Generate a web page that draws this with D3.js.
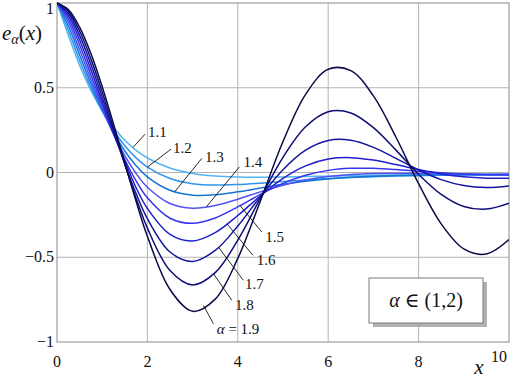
<!DOCTYPE html>
<html><head><meta charset="utf-8">
<script src="https://cdn.jsdelivr.net/npm/d3@7"></script>
<style>body{margin:0;background:#fff}svg{display:block}</style>
</head><body>
<svg id="chart" width="512" height="378"></svg>
<script>
// ---- data ----
const xValues = [0,0.25,0.5,0.75,1,1.25,1.5,1.75,2,2.5,3,3.5,4,4.5,5,5.5,6,6.5,7,7.5,8,8.5,9,9.5,10];
const alphas = ["1.1","1.2","1.3","1.4","1.5","1.6","1.7","1.8","1.9"];
const e11 = [1,0.8105,0.6335,0.4847,0.3637,0.2665,0.1902,0.1310,0.0857,0.0261,-0.0056,-0.0210,-0.0268,-0.0282,-0.0264,-0.0242,-0.0214,-0.0191,-0.0168,-0.0151,-0.0135,-0.0117,-0.0108,-0.0100,-0.0093];
const e12 = [1,0.8396,0.6627,0.5017,0.3635,0.2493,0.1577,0.0862,0.0320,-0.0358,-0.0661,-0.0743,-0.0709,-0.0628,-0.0527,-0.0437,-0.0357,-0.0296,-0.0248,-0.0212,-0.0186,-0.0165,-0.0150,-0.0138,-0.0128];
const e13 = [1,0.8657,0.6932,0.5231,0.3689,0.2363,0.1268,0.0402,-0.0257,-0.1051,-0.1337,-0.1316,-0.1142,-0.0919,-0.0697,-0.0517,-0.0377,-0.0280,-0.0216,-0.0177,-0.0153,-0.0140,-0.0131,-0.0126,-0.0121];
const e14 = [1,0.8887,0.7239,0.5484,0.3800,0.2285,0.0993,-0.0057,-0.0866,-0.1828,-0.2106,-0.1953,-0.1575,-0.1144,-0.0748,-0.0444,-0.0235,-0.0114,-0.0058,-0.0045,-0.0054,-0.0072,-0.0090,-0.0102,-0.0109];
const e15 = [1,0.9085,0.7540,0.5767,0.3966,0.2270,0.0765,-0.0498,-0.1494,-0.2697,-0.2999,-0.2681,-0.2029,-0.1295,-0.0643,-0.0164,0.0125,0.0246,0.0245,0.0173,0.0073,-0.0022,-0.0094,-0.0137,-0.0153];
const e16 = [1,0.9254,0.7829,0.6071,0.4184,0.2322,0.0680,-0.0899,-0.2121,-0.3654,-0.4040,-0.3546,-0.2539,-0.1383,-0.0349,0.0392,0.0792,0.0876,0.0733,0.0466,0.0171,-0.0082,-0.0254,-0.0333,-0.0332];
const e17 = [1,0.9396,0.8099,0.6385,0.4445,0.2440,0.0507,-0.1243,-0.2725,-0.4690,-0.5246,-0.4598,-0.3160,-0.1423,0.0168,0.1319,0.1892,0.1902,0.1485,0.0834,0.0148,-0.0419,-0.0772,-0.0885,-0.0791];
const e18 = [1,0.9513,0.8348,0.6703,0.4742,0.2624,0.0494,-0.1512,-0.3282,-0.5782,-0.6632,-0.5907,-0.3990,-0.1507,0.0897,0.2696,0.3586,0.3514,0.2651,0.1320,-0.0107,-0.1288,-0.2003,-0.2159,-0.1811];
const e19 = [1,0.9610,0.8574,0.7015,0.5065,0.2864,0.0563,-0.1695,-0.3766,-0.6901,-0.8187,-0.7472,-0.5070,-0.1680,0.1825,0.4610,0.6090,0.6010,0.4520,0.2080,-0.0660,-0.3030,-0.4510,-0.4810,-0.3960];
const seriesValues = [e11,e12,e13,e14,e15,e16,e17,e18,e19];
const xTicks = [0,2,4,6,8,10];
const xTickLabels = ["0","2","4","6","8","10"];
const yTicks = [-1,-0.5,0,0.5,1];
const yTickLabels = ["\u22121","\u22120.5","0","0.5","1"];
const curveLabels = ["1.1","1.2","1.3","1.4","1.5","1.6","1.7","1.8","\u03b1 = 1.9"];
// annotation anchors in data units
const leaderEndX   = [1.68,2.0,2.61,3.31,4.05,3.76,3.57,3.46,3.24];
const leaderStartX = [1.947,2.523,3.203,4.035,4.532,4.332,4.124,3.867,3.46];
const leaderStartY = [0.226,0.1376,0.0827,0.0331,-0.351,-0.488,-0.636,-0.754,-0.892];
const labelX = [2.013,2.567,3.276,4.124,4.605,4.421,4.162,3.94,3.535];
const labelY = [0.2085,0.114,0.0626,0.0331,-0.41,-0.5475,-0.685,-0.813,-0.951];

// ---- styles ----
const colors = ["#55b4f2","#2f94ee","#1474d6","#5252f2","#3535ee","#2020cc","#15159f","#0e0e78","#0b0b48"];
const plot = {left:57, right:509, top:3, bottom:342};
const serif = "'Liberation Serif','DejaVu Serif',serif";

const svg = d3.select("#chart");
const x = d3.scaleLinear().domain([0,10]).range([plot.left, plot.right]);
const y = d3.scaleLinear().domain([-1,1]).range([plot.bottom, plot.top]);

// grid
const g = svg.append("g");
g.selectAll("line.gx").data(xTicks.slice(1,-1)).join("line")
  .attr("x1",d=>x(d)).attr("x2",d=>x(d)).attr("y1",plot.top).attr("y2",plot.bottom)
  .attr("stroke","#b4b4b4").attr("stroke-width",1);
g.selectAll("line.gy").data(yTicks.slice(1,-1)).join("line")
  .attr("x1",plot.left).attr("x2",plot.right).attr("y1",d=>y(d)).attr("y2",d=>y(d))
  .attr("stroke","#b4b4b4").attr("stroke-width",1);
// frame
g.append("rect").attr("x",plot.left).attr("y",plot.top)
  .attr("width",plot.right-plot.left).attr("height",plot.bottom-plot.top)
  .attr("fill","none").attr("stroke","#8a8a8a").attr("stroke-width",1);

// curves
svg.append("clipPath").attr("id","clip").append("rect")
  .attr("x",plot.left).attr("y",plot.top-2).attr("width",plot.right-plot.left).attr("height",plot.bottom-plot.top+4);
const line = d3.line().x((d,i)=>x(xValues[i])).y(d=>y(d)).curve(d3.curveCatmullRom.alpha(0.5));
svg.append("g").attr("clip-path","url(#clip)")
  .selectAll("path").data(seriesValues).join("path")
  .attr("d",line).attr("fill","none")
  .attr("stroke",(d,i)=>colors[i]).attr("stroke-width",1.5);

// value of a series at xv (linear between samples)
function valueAt(vals, xv){
  const i = d3.bisectRight(xValues, xv) - 1;
  const t = (xv - xValues[i])/(xValues[i+1]-xValues[i]);
  return vals[i] + t*(vals[i+1]-vals[i]);
}

// leaders and labels
const ann = svg.append("g");
alphas.forEach((a,i)=>{
  ann.append("line")
    .attr("x1",x(leaderStartX[i])).attr("y1",y(leaderStartY[i]))
    .attr("x2",x(leaderEndX[i])).attr("y2",y(valueAt(seriesValues[i],leaderEndX[i])))
    .attr("stroke","#111").attr("stroke-width",0.9);
  const t = ann.append("text").attr("x",x(labelX[i])).attr("y",y(labelY[i]))
    .attr("font-family",serif).attr("font-size",15).attr("fill","#111");
  if (i === 8) {
    t.append("tspan").attr("font-style","italic").text("\u03b1");
    t.append("tspan").text(" = 1.9");
  } else t.text(curveLabels[i]);
});

// tick labels
svg.append("g").selectAll("text").data(xTicks).join("text")
  .attr("x",(d,i)=> i===xTicks.length-1 ? x(d)-10 : x(d))
  .attr("y",(d,i)=> i===xTicks.length-1 ? 362 : 367)
  .attr("text-anchor","middle").attr("font-family",serif).attr("font-size",16).attr("fill","#111")
  .text((d,i)=>xTickLabels[i]);
svg.append("g").selectAll("text").data(yTicks).join("text")
  .attr("x",plot.left-3)
  .attr("y",(d,i)=> i===yTicks.length-1 ? y(d)+11 : y(d)+5)
  .attr("text-anchor","end").attr("font-family",serif).attr("font-size",16).attr("fill","#111")
  .text((d,i)=>yTickLabels[i]);

// axis titles
const yt = svg.append("text").attr("x",2).attr("y",40).attr("font-family",serif).attr("font-size",21).attr("fill","#111");
yt.append("tspan").attr("font-style","italic").text("e");
yt.append("tspan").attr("font-style","italic").attr("font-size",14).attr("dy",4).text("\u03b1");
yt.append("tspan").attr("dy",-4).text("(");
yt.append("tspan").attr("font-style","italic").text("x");
yt.append("tspan").text(")");
svg.append("text").attr("x",479).attr("y",374).attr("text-anchor","middle")
  .attr("font-family",serif).attr("font-size",21).attr("font-style","italic").attr("fill","#111").text("x");

// legend box
const bx = 369, by = 278, bw = 114, bh = 45;
svg.append("rect").attr("x",bx+4).attr("y",by+4).attr("width",bw).attr("height",bh).attr("fill","#b0b0b0");
svg.append("rect").attr("x",bx).attr("y",by).attr("width",bw).attr("height",bh)
  .attr("fill","#fff").attr("stroke","#7a7a7a").attr("stroke-width",1);
const lt = svg.append("text").attr("x",bx+bw/2).attr("y",by+bh/2+6).attr("text-anchor","middle")
  .attr("font-family",serif).attr("font-size",20).attr("fill","#111");
lt.append("tspan").attr("font-style","italic").text("\u03b1");
lt.append("tspan").text(" \u2208 (1,2)");
</script>
</body></html>
